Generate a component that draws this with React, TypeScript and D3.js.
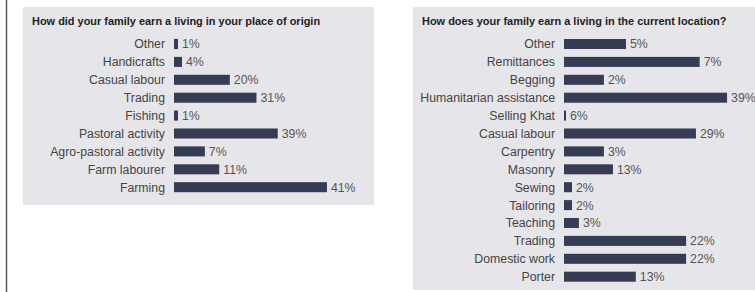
import React from 'react'
import * as d3 from 'd3'

// place of origin
const originCategories = ['Other', 'Handicrafts', 'Casual labour', 'Trading', 'Fishing', 'Pastoral activity', 'Agro-pastoral activity', 'Farm labourer', 'Farming']
const originLabels = ['1%', '4%', '20%', '31%', '1%', '39%', '7%', '11%', '41%']
// bar lengths as drawn (they don't follow the printed labels)
const originBars = [1.5, 3, 21, 31, 1.5, 39, 11.6, 17, 57.5]

// current location
const currentCategories = ['Other', 'Remittances', 'Begging', 'Humanitarian assistance', 'Selling Khat', 'Casual labour', 'Carpentry', 'Masonry', 'Sewing', 'Tailoring', 'Teaching', 'Trading', 'Domestic work', 'Porter']
const currentLabels = ['5%', '7%', '2%', '39%', '6%', '29%', '3%', '13%', '2%', '2%', '3%', '22%', '22%', '13%']
const currentBars = [23.3, 51, 15, 61.3, 0.75, 49.6, 15, 18.4, 3, 3, 5.6, 45.9, 45.9, 27]

const BAR = '#353c54'
const BG = '#e6e5ea'
const FONT = 'Liberation Sans, Arial, Helvetica, sans-serif'

function Panel(props: {x: number, y: number, w: number, h: number, title: string,
  cats: string[], labels: string[], bars: number[]}) {
  const {x, y, w, h, title, cats, labels, bars} = props
  const step = 17.9
  const top = 35.05 - y
  const yScale = d3.scaleBand<string>()
    .domain(cats)
    .range([top, top + step * cats.length])
    .paddingInner(0.44)
    .paddingOuter(0.22)
  const xScale = d3.scaleLinear().domain([0, 100]).range([0, 266])
  const barX = 151
  return (
    <g transform={`translate(${x},${y})`}>
      <rect width={w} height={h} fill={BG} />
      <text x={9} y={17.5} fontFamily={FONT} fontSize={10.95} fontWeight="bold" fill="#222">{title}</text>
      {cats.map((c, i) => {
        const by = yScale(c) as number
        const bw = xScale(bars[i])
        const cy = by + yScale.bandwidth() / 2
        return (
          <g key={c}>
            <text x={barX - 9} y={cy} dy="0.36em" textAnchor="end" fontFamily={FONT} fontSize={12.3} fill="#444">{c}</text>
            <rect x={barX} y={by} width={bw} height={yScale.bandwidth()} fill={BAR} />
            <text x={barX + bw + 4} y={cy} dy="0.36em" fontFamily={FONT} fontSize={12.3} fill="#555">{labels[i]}</text>
          </g>
        )
      })}
    </g>
  )
}

export default function App() {
  return (
    <div style={{position: 'absolute', left: 0, top: 0}}>
      <svg width={755} height={292} style={{display: 'block', background: '#fff'}}>
        <line x1={6.5} y1={0} x2={6.5} y2={292} stroke="#555" strokeWidth={1.5} />
        <Panel x={23} y={7} w={351} h={198} title="How did your family earn a living in your place of origin"
          cats={originCategories} labels={originLabels} bars={originBars} />
        <Panel x={413} y={7} w={350} h={283} title="How does your family earn a living in the current location?"
          cats={currentCategories} labels={currentLabels} bars={currentBars} />
      </svg>
    </div>
  )
}
